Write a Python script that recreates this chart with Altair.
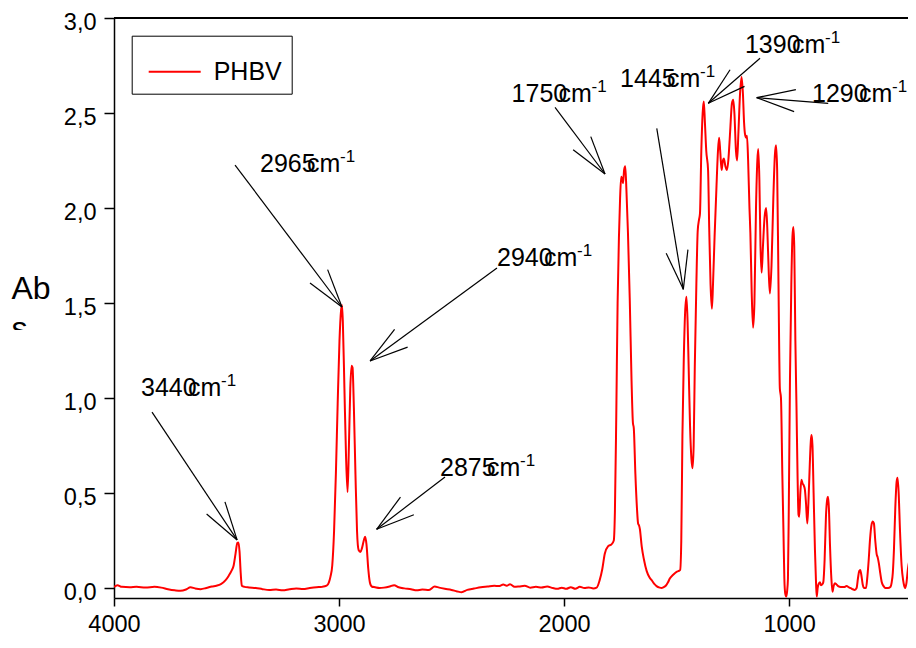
import altair as alt
import numpy as np
import pandas as pd

FONT = "Liberation Sans"

# ---------------- spectrum ----------------
wavenumber = [4000, 3985, 3965, 3930, 3900, 3860, 3820, 3790, 3760, 3730, 3705, 3680, 3660, 3640,
              3615, 3590, 3565, 3545, 3525, 3505, 3490, 3478, 3468, 3460, 3452, 3447, 3442, 3437,
              3432, 3420, 3400, 3370, 3340, 3310, 3280, 3250, 3220, 3190, 3160, 3130, 3100, 3075,
              3055, 3045, 3038, 3030, 3022, 3014, 3006, 2998, 2991, 2987, 2983, 2976, 2969, 2962,
              2956, 2950, 2944, 2940, 2934, 2927, 2920, 2913, 2905, 2898, 2890, 2884, 2878, 2870,
              2863, 2855, 2840, 2820, 2800, 2775, 2755, 2735, 2710, 2680, 2655, 2630, 2600, 2575,
              2555, 2530, 2500, 2475, 2455, 2430, 2400, 2370, 2340, 2310, 2290, 2270, 2255, 2240,
              2220, 2200, 2175, 2150, 2125, 2100, 2075, 2050, 2030, 2010, 1990, 1970, 1950, 1930,
              1910, 1890, 1870, 1855, 1842, 1830, 1819, 1804, 1789, 1779, 1774, 1768, 1762, 1756,
              1751, 1746, 1741, 1738, 1733, 1728, 1723, 1716, 1708, 1700, 1694, 1690, 1683, 1676,
              1671, 1667, 1663, 1655, 1645, 1633, 1620, 1610, 1598, 1589, 1575, 1567, 1558, 1548,
              1538, 1530, 1515, 1500, 1490, 1484, 1479, 1474, 1468, 1462, 1456, 1451, 1446, 1440,
              1434, 1429, 1424, 1419, 1412, 1406, 1400, 1396, 1390, 1384, 1379, 1374, 1368, 1360,
              1355, 1349, 1343, 1338, 1331, 1323, 1316, 1311, 1306, 1300, 1294, 1290, 1283, 1276,
              1270, 1262, 1254, 1248, 1243, 1236, 1231, 1225, 1218, 1211, 1205, 1200, 1196, 1191,
              1187, 1182, 1176, 1172, 1166, 1160, 1154, 1147, 1141, 1137, 1132, 1127, 1122, 1116,
              1109, 1102, 1097, 1090, 1085, 1078, 1070, 1063, 1058, 1053, 1047, 1041, 1036, 1030,
              1025, 1021, 1017, 1013, 1009, 1005, 1001, 996, 990, 985, 981, 977, 972, 967,
              962, 958, 955, 950, 945, 940, 935, 930, 925, 919, 914, 908, 903, 900,
              896, 891, 885, 880, 877, 873, 869, 863, 858, 852, 848, 842, 836, 830,
              827, 823, 818, 812, 807, 802, 797, 790, 782, 770, 755, 745, 732, 720,
              708, 700, 694, 688, 684, 679, 673, 666, 658, 652, 646, 640, 634, 628,
              623, 617, 611, 606, 601, 595, 588, 580, 572, 560, 550, 544, 539, 534,
              528, 522, 518, 513, 507, 500, 493, 488, 484, 478, 472, 466, 462, 457,
              451, 445, 440]
absorbance = [0.005, 0.015, 0.006, 0.004, 0.006, 0.003, 0.006, 0.002, -0.006, -0.012, -0.015, -0.008, 0.004, -0.002,
              -0.006, 0.0, 0.008, 0.012, 0.02, 0.04, 0.065, 0.09, 0.12, 0.18, 0.237, 0.24, 0.19, 0.08,
              0.012, 0.006, 0.003, 0.0, -0.006, -0.01, -0.008, -0.012, -0.006, -0.002, -0.005, 0.0, 0.004, 0.006,
              0.012, 0.03, 0.06, 0.12, 0.3, 0.6, 0.97, 1.3, 1.46, 1.49, 1.4, 1.05, 0.7, 0.505,
              0.75, 1.05, 1.17, 1.16, 0.95, 0.6, 0.3, 0.2, 0.19, 0.21, 0.25, 0.27, 0.23, 0.1,
              0.03, 0.008, 0.004, 0.0, 0.002, 0.008, 0.015, 0.004, -0.002, -0.006, -0.012, -0.008, -0.01, 0.008,
              0.002, -0.004, -0.01, -0.018, -0.022, -0.01, -0.003, 0.004, 0.008, 0.012, 0.01, 0.018, 0.012, 0.02,
              0.006, 0.008, 0.012, 0.002, 0.006, 0.003, 0.008, 0.0, -0.004, 0.002, -0.004, 0.004, -0.004, 0.006,
              0.0, 0.003, -0.002, 0.002, 0.04, 0.1, 0.18, 0.22, 0.23, 0.25, 0.4, 0.9, 1.5, 1.85,
              2.05, 2.165, 2.15, 2.13, 2.2, 2.22, 2.1, 1.87, 1.52, 1.09, 0.87, 0.84, 0.6, 0.42,
              0.34, 0.33, 0.31, 0.22, 0.15, 0.09, 0.055, 0.04, 0.02, 0.01, 0.002, 0.0, 0.004, 0.012,
              0.03, 0.05, 0.07, 0.085, 0.09, 0.095, 0.25, 0.8, 1.2, 1.45, 1.533, 1.4, 1.15, 0.85,
              0.68, 0.63, 0.75, 1.165, 1.6, 1.88, 1.94, 1.97, 2.3, 2.5, 2.56, 2.45, 2.3, 2.2,
              1.9, 1.6, 1.47, 1.6, 1.85, 2.1, 2.3, 2.37, 2.3, 2.2, 2.25, 2.26, 2.22, 2.2,
              2.25, 2.4, 2.55, 2.57, 2.5, 2.3, 2.25, 2.4, 2.6, 2.69, 2.6, 2.45, 2.39, 2.37,
              2.38, 2.25, 2.0, 1.87, 1.55, 1.37, 1.5, 2.0, 2.25, 2.31, 2.15, 1.8, 1.66, 1.8,
              1.95, 2.0, 1.9, 1.65, 1.55, 1.7, 2.05, 2.28, 2.33, 2.2, 1.6, 1.05, 1.0, 0.6,
              0.3, 0.05, -0.03, -0.045, -0.02, 0.05, 0.45, 1.1, 1.6, 1.85, 1.9, 1.8, 1.3, 0.95,
              0.57, 0.385, 0.375, 0.5, 0.57, 0.55, 0.54, 0.52, 0.45, 0.34, 0.45, 0.65, 0.78, 0.805,
              0.75, 0.5, 0.2, 0.02, -0.045, 0.0, 0.02, 0.03, 0.015, 0.02, 0.03, 0.15, 0.38, 0.47,
              0.48, 0.42, 0.22, 0.05, -0.02, 0.01, 0.025, 0.02, 0.01, 0.005, 0.005, 0.01, 0.002, -0.005,
              -0.01, 0.0, 0.05, 0.09, 0.095, 0.07, 0.02, 0.0, 0.0, 0.06, 0.15, 0.26, 0.33, 0.35,
              0.34, 0.25, 0.18, 0.16, 0.13, 0.08, 0.03, 0.01, 0.0, 0.0, 0.005, 0.03, 0.08, 0.2,
              0.42, 0.56, 0.58, 0.5, 0.3, 0.12, 0.04, 0.01, 0.0, 0.03, 0.1, 0.14, 0.15, 0.12,
              0.05, 0.01, 0.0]
series_name = "PHBV"

# ---------------- axes ----------------
x_ticks = [4000, 3000, 2000, 1000]
y_ticks = [0.0, 0.5, 1.0, 1.5, 2.0, 2.5, 3.0]
x_domain = [4000, 471.5]
y_domain = [-0.0526, 3.0]
frame_top = [3.0]
y_title_lines = ["Ab", "s"]

# ---------------- annotations ----------------
peak_labels = ["3440", "2965", "2940", "2875", "1750", "1445", "1390", "1290"]
unit_text = "cm"
unit_power = "-1"
label_wn = [3880, 3351, 2298, 2551, 2233, 1751, 1196, 898]
label_abs = [1.011, 2.189, 1.695, 0.589, 2.559, 2.638, 2.814, 2.559]
tail_wn = [3831, 3462, 2298, 2529, 2040, 1588, 1129, 826]
tail_abs = [0.926, 2.226, 1.684, 0.584, 2.53, 2.419, 2.788, 2.551]
tip_wn = [3453, 2987, 2862, 2833, 1818, 1470, 1359, 1144]
tip_abs = [0.253, 1.479, 1.195, 0.309, 2.179, 1.572, 2.551, 2.581]

W, H = 794, 580
sx = W / (x_domain[0] - x_domain[1])
sy = H / (y_domain[1] - y_domain[0])

# arrow shafts + open heads (barbs built from the shaft direction)
segs = []
BARB, HALF = 40.0, np.deg2rad(16)
for tw, ta, pw, pa in zip(tail_wn, tail_abs, tip_wn, tip_abs):
    segs.append((tw, ta, pw, pa))
    dx = (pw - tw) * sx        # pixel dx from tip towards tail
    dy = (pa - ta) * sy        # pixel dy from tip towards tail (screen down positive)
    n = np.hypot(dx, dy)
    ux, uy = dx / n, dy / n
    for s in (-1, 1):
        c, si = np.cos(s * HALF), np.sin(s * HALF)
        bx = (ux * c - uy * si) * BARB
        by = (ux * si + uy * c) * BARB
        segs.append((pw - bx / sx, pa - by / sy, pw, pa))
seg_df = pd.DataFrame(segs, columns=["wn", "abs", "wn2", "abs2"])

spec_df = pd.DataFrame({"wn": wavenumber, "abs": absorbance, "series": series_name})
lab_df = pd.DataFrame({"wn": label_wn, "abs": label_abs, "num": peak_labels,
                       "unit": unit_text, "pw": unit_power})
frame_df = pd.DataFrame({"abs": frame_top})

x_enc = alt.X("wn:Q", scale=alt.Scale(domain=x_domain, nice=False, zero=False),
              axis=alt.Axis(values=x_ticks, format="d", title=None, grid=False,
                            labelFlush=False, labelOverlap=False,
                            labelFont=FONT, labelFontSize=23.5, labelColor="black",
                            labelPadding=6, tickSize=8, tickColor="black", tickWidth=1.5,
                            domainColor="black", domainWidth=1.5))
y_enc = alt.Y("abs:Q", scale=alt.Scale(domain=y_domain, nice=False, zero=False),
              axis=alt.Axis(values=y_ticks, title=None, grid=False,
                            labelExpr="replace(format(datum.value, '.1f'), '.', ',')",
                            labelFlush=False, labelOverlap=False,
                            labelFont=FONT, labelFontSize=23.5, labelColor="black",
                            labelPadding=8, labelOffset=4, tickSize=10, tickColor="black",
                            tickWidth=1.5, domainColor="black", domainWidth=1.5))

line = alt.Chart(spec_df).mark_line(strokeWidth=2, interpolate="monotone", clip=True).encode(
    x=x_enc, y=y_enc,
    color=alt.Color("series:N", scale=alt.Scale(domain=[series_name], range=["#ff0000"]),
                    legend=alt.Legend(orient="none", legendX=17.7, legendY=17.7, title=None,
                                      strokeColor="black", fillColor="white", padding=9,
                                      symbolType="stroke", symbolSize=2704, symbolStrokeWidth=2,
                                      symbolOffset=7, labelFont=FONT, labelFontSize=25,
                                      labelColor="black", labelOffset=12)),
)

frame = alt.Chart(frame_df).mark_rule(color="black", strokeWidth=2).encode(y=y_enc)

arrows = alt.Chart(seg_df).mark_rule(color="black", strokeWidth=1.2).encode(
    x=x_enc, y=y_enc, x2="wn2:Q", y2="abs2:Q")

nums = alt.Chart(lab_df).mark_text(align="left", baseline="alphabetic", font=FONT,
                                   fontSize=25, color="black").encode(x=x_enc, y=y_enc, text="num:N")
units = alt.Chart(lab_df).mark_text(align="left", baseline="alphabetic", font=FONT,
                                    fontSize=25, color="black", dx=47).encode(x=x_enc, y=y_enc, text="unit:N")
powers = alt.Chart(lab_df).mark_text(align="left", baseline="alphabetic", font=FONT,
                                     fontSize=17, color="black", dx=80, dy=-10).encode(
    x=x_enc, y=y_enc, text="pw:N")

ytitle = alt.Chart(pd.DataFrame({"t": ["\n".join(y_title_lines)]})).mark_text(
    align="left", baseline="alphabetic", font=FONT, fontSize=32, color="black",
    lineBreak="\n", lineHeight=40).encode(x=alt.value(-102.5), y=alt.value(281.3), text="t:N")
ytitle_mask = alt.Chart(pd.DataFrame({"m": [0]})).mark_rect(fill="white").encode(
    x=alt.value(-110), x2=alt.value(-52), y=alt.value(312), y2=alt.value(335))

chart = alt.layer(line, frame, arrows, nums, units, powers, ytitle, ytitle_mask).properties(
    width=W, height=H,
    padding={"left": 106, "top": 10, "right": 0, "bottom": 40},
    autosize=alt.AutoSizeParams(type="none"),
    background="white",
).configure_view(stroke="transparent")

chart.save("out.html", embed_options={"renderer": "svg", "actions": False})
